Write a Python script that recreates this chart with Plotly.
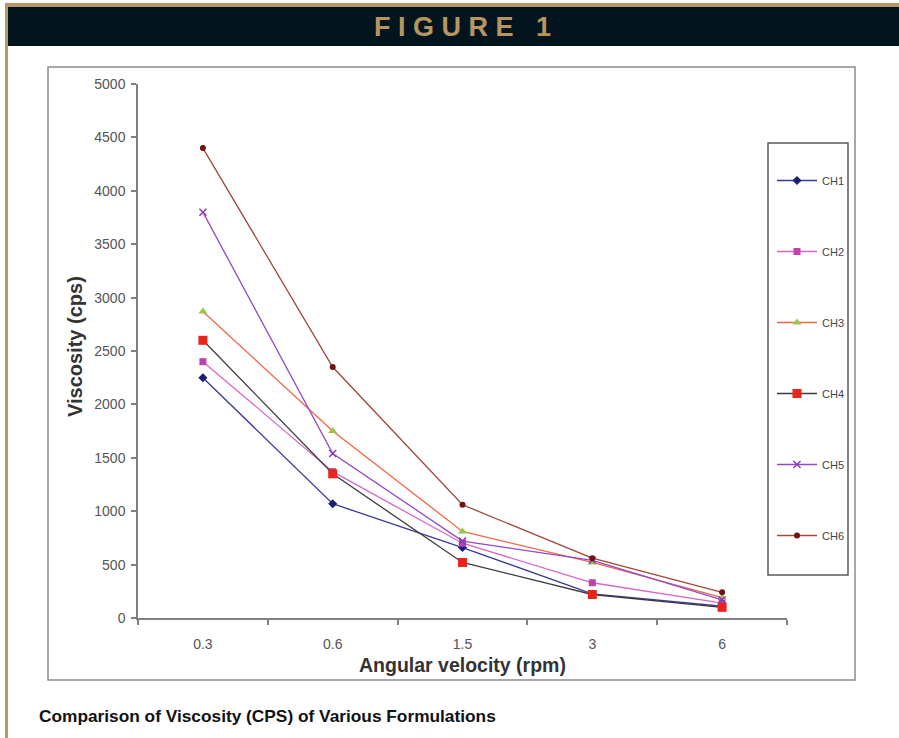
import plotly.graph_objects as go

W, H = 899, 738

# Angular velocity categories (rpm) and measured viscosity (cps) per formulation
speeds = ["0.3", "0.6", "1.5", "3", "6"]
ch1 = [2250, 1070, 660, 225, 110]
ch2 = [2400, 1370, 700, 330, 140]
ch3 = [2870, 1750, 810, 520, 190]
ch4 = [2600, 1350, 520, 220, 100]
ch5 = [3800, 1540, 720, 540, 170]
ch6 = [4400, 2350, 1060, 560, 240]

series_names = ["CH1", "CH2", "CH3", "CH4", "CH5", "CH6"]
series_values = [ch1, ch2, ch3, ch4, ch5, ch6]

styles = [
    dict(line="#3a3a9a", marker="#1c1c7a", symbol="diamond", size=7),
    dict(line="#d868c8", marker="#c040b0", symbol="square", size=7),
    dict(line="#f06848", marker="#98c848", symbol="triangle-up", size=8),
    dict(line="#3c3c3c", marker="#e8241c", symbol="square", size=9),
    dict(line="#9448c8", marker="#8a3cb8", symbol="x-thin", size=7),
    dict(line="#a0483a", marker="#6e1212", symbol="circle", size=6),
]


def px_x(p):
    return p / W


def px_y(p):
    return 1 - p / H


fig = go.Figure()
for i, (name, vals, st) in enumerate(zip(series_names, series_values, styles)):
    fig.add_trace(go.Scatter(
        x=speeds, y=vals, name=name, mode="lines+markers",
        legendgroup=name,
        line=dict(color=st["line"], width=1.3),
        marker=dict(color=st["marker"], symbol=st["symbol"], size=st["size"],
                    line=dict(color=st["marker"], width=1.5 if st["symbol"] == "x-thin" else 0)),
    ))

shapes = [
    # tan outer frame
    dict(type="rect", xref="paper", yref="paper", x0=px_x(5), x1=1, y0=px_y(7), y1=px_y(3),
         fillcolor="#b8976b", line=dict(width=0), layer="below"),
    dict(type="rect", xref="paper", yref="paper", x0=px_x(5), x1=px_x(8), y0=0, y1=px_y(3),
         fillcolor="#b8976b", line=dict(width=0), layer="below"),
    # dark heading bar
    dict(type="rect", xref="paper", yref="paper", x0=px_x(8), x1=1, y0=px_y(46), y1=px_y(7),
         fillcolor="#02151f", line=dict(width=0), layer="below"),
    # chart frame
    dict(type="rect", xref="paper", yref="paper", x0=px_x(48), x1=px_x(855), y0=px_y(680), y1=px_y(67),
         line=dict(color="#8c8c8c", width=1.5), layer="below"),
    # legend frame
    dict(type="rect", xref="paper", yref="paper", x0=px_x(768), x1=px_x(848), y0=px_y(575), y1=px_y(143),
         line=dict(color="#5a5a5a", width=1.5), fillcolor="white", layer="below"),
]

nb = "\u00a0"
heading = nb.join(list("FIGURE")) + nb * 3 + "1"

annotations = [
    dict(text="<b>" + heading + "</b>", xref="paper", yref="paper", x=px_x(462), y=px_y(27),
         showarrow=False, xanchor="center", yanchor="middle",
         font=dict(family="Liberation Sans, Arial", size=27, color="#b8955f")),
    dict(text="<b>Comparison of Viscosity (CPS) of Various Formulations</b>", xref="paper", yref="paper",
         x=px_x(37), y=px_y(716), showarrow=False, xanchor="left", yanchor="middle",
         font=dict(family="Liberation Sans, Arial", size=17.3, color="#111111")),
    dict(text="<b>Viscosity (cps)</b>", xref="paper", yref="paper", x=px_x(75), y=px_y(347),
         showarrow=False, textangle=-90, xanchor="center", yanchor="middle",
         font=dict(family="Liberation Sans, Arial", size=20, color="#333333")),
    dict(text="<b>Angular velocity (rpm)</b>", xref="paper", yref="paper", x=px_x(462), y=px_y(665),
         showarrow=False, xanchor="center", yanchor="middle",
         font=dict(family="Liberation Sans, Arial", size=19.5, color="#333333")),
]

fig.update_layout(
    width=W, height=H,
    margin=dict(l=0, r=0, t=0, b=0, pad=0),
    paper_bgcolor="white", plot_bgcolor="rgba(0,0,0,0)",
    shapes=shapes, annotations=annotations,
    font=dict(family="Liberation Sans, Arial", color="#555555"),
    showlegend=True,
    legend=dict(x=px_x(772), y=px_y(166), xanchor="left", yanchor="top",
                bgcolor="rgba(0,0,0,0)", borderwidth=0,
                font=dict(size=11, color="#444444"),
                tracegroupgap=52, itemwidth=40),
    xaxis=dict(domain=[px_x(138), px_x(787)], type="category", range=[-0.5, 4.5],
               automargin=False,
               showgrid=False, zeroline=False, showline=True, linecolor="#808080", linewidth=1.5,
               ticks="outside", tickson="boundaries", ticklen=5, tickcolor="#808080", tickwidth=1.5,
               ticklabelstandoff=12, tickfont=dict(size=14, color="#555555")),
    yaxis=dict(domain=[px_y(618), px_y(84)], range=[0, 5000], dtick=500,
               automargin=False,
               showgrid=False, zeroline=False, showline=True, linecolor="#808080", linewidth=1.5,
               ticks="outside", ticklen=5, tickcolor="#808080", tickwidth=1.5,
               ticklabelstandoff=3, tickfont=dict(size=14, color="#555555")),
)

fig.write_html("out.html")
